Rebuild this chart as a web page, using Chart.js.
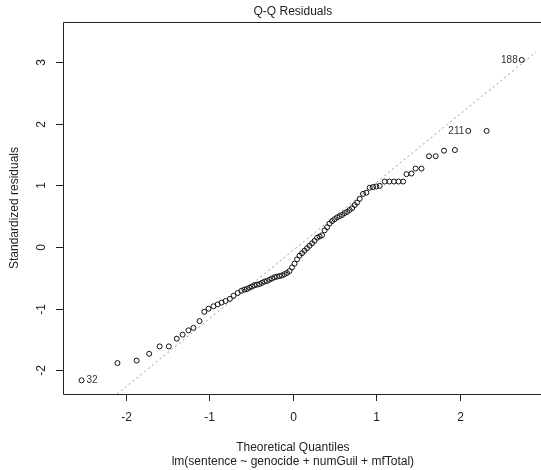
<!DOCTYPE html>
<html>
<head>
<meta charset="utf-8">
<script src="https://cdn.jsdelivr.net/npm/chart.js@4.4.0/dist/chart.umd.min.js"></script>
<style>
body { margin:0; background:#fff; }
</style>
</head>
<body>
<canvas id="qq" width="541" height="470"></canvas>
<script>
// theoretical quantiles (x) and standardized residuals (y)
var theoQ = [
    -2.53, -2.10, -1.87, -1.72, -1.595, -1.485, -1.39, -1.32, -1.25, -1.19, -1.117,
    -1.06, -1.01, -0.95, -0.90, -0.853, -0.806, -0.754, -0.71, -0.66, -0.616,
    -0.58, -0.55, -0.52, -0.49, -0.46, -0.43, -0.40, -0.37, -0.34, -0.31, -0.28,
    -0.25, -0.22, -0.19, -0.16, -0.13, -0.10, -0.07, -0.04, -0.01, 0.02, 0.05,
    0.08, 0.11, 0.14, 0.17, 0.20, 0.23, 0.26, 0.29, 0.32, 0.35, 0.38, 0.41,
    0.44, 0.47, 0.50, 0.53, 0.56, 0.59, 0.62, 0.65, 0.68, 0.71, 0.74, 0.77,
    0.80, 0.84, 0.88, 0.92, 0.96, 1.00, 1.04,
    1.10, 1.155, 1.21, 1.265, 1.32, 1.36, 1.42, 1.47, 1.54, 1.63, 1.71, 1.81,
    1.94, 2.10, 2.32, 2.74
];
var stdRes = [
    -2.16, -1.88, -1.84, -1.73, -1.61, -1.61, -1.485, -1.42, -1.35, -1.31, -1.20,
    -1.05, -1.00, -0.96, -0.93, -0.90, -0.875, -0.84, -0.79, -0.745, -0.71,
    -0.69, -0.68, -0.66, -0.64, -0.62, -0.61, -0.60, -0.58, -0.56, -0.55, -0.53,
    -0.51, -0.49, -0.48, -0.47, -0.46, -0.44, -0.42, -0.39, -0.33, -0.27, -0.20,
    -0.14, -0.10, -0.06, -0.02, 0.02, 0.06, 0.10, 0.15, 0.17, 0.19, 0.27, 0.32,
    0.38, 0.42, 0.45, 0.48, 0.50, 0.52, 0.55, 0.57, 0.60, 0.63, 0.68, 0.72,
    0.78, 0.86, 0.88, 0.96, 0.97, 0.98, 0.99,
    1.06, 1.06, 1.06, 1.06, 1.06, 1.18, 1.19, 1.27, 1.27, 1.47, 1.47, 1.56,
    1.57, 1.88, 1.88, 3.03
];
// observation ids shown next to the extreme points
var idIndex = [0, 87, 89];
var idText = ['32', '211', '188'];
var idSide = ['right', 'left', 'left'];

// qqline end points
var lineX = [-2.80, 2.95];
var lineY = [-3.15, 3.20];

var xTicks = [-2, -1, 0, 1, 2];
var yTicks = [-2, -1, 0, 1, 2, 3];

var pts = [];
for (var i = 0; i < theoQ.length; i++) pts.push({x: theoQ[i], y: stdRes[i]});
var linePts = [{x: lineX[0], y: lineY[0]}, {x: lineX[1], y: lineY[1]}];

var FONT = '"Liberation Sans", Arial, sans-serif';

var rStyle = {
    id: 'rStyle',
    afterDraw: function(chart) {
        var ctx = chart.ctx;
        var a = chart.chartArea;
        var xs = chart.scales.x, ys = chart.scales.y;
        ctx.save();
        // box (right side runs off the canvas)
        ctx.strokeStyle = '#222';
        ctx.lineWidth = 1;
        ctx.beginPath();
        ctx.moveTo(541, a.top + 0.5);
        ctx.lineTo(Math.round(a.left) + 0.5, a.top + 0.5);
        ctx.lineTo(Math.round(a.left) + 0.5, a.bottom + 0.5);
        ctx.lineTo(541, a.bottom + 0.5);
        ctx.stroke();

        ctx.fillStyle = '#222';
        ctx.font = '12px ' + FONT;
        // x axis
        ctx.textAlign = 'center';
        ctx.textBaseline = 'middle';
        xTicks.forEach(function(t) {
            var px = Math.round(xs.getPixelForValue(t)) + 0.5;
            ctx.beginPath();
            ctx.moveTo(px, a.bottom);
            ctx.lineTo(px, a.bottom + 7);
            ctx.stroke();
            ctx.fillText(String(t), px, 418);
        });
        // y axis, labels rotated like R
        yTicks.forEach(function(t) {
            var py = Math.round(ys.getPixelForValue(t)) + 0.5;
            ctx.beginPath();
            ctx.moveTo(a.left, py);
            ctx.lineTo(a.left - 7, py);
            ctx.stroke();
            ctx.save();
            ctx.translate(42, py);
            ctx.rotate(-Math.PI / 2);
            ctx.fillText(String(t), 0, 0);
            ctx.restore();
        });
        var cx = xs.getPixelForValue(0);
        ctx.fillText('Q-Q Residuals', cx, 12);
        ctx.fillText('Theoretical Quantiles', cx, 448);
        ctx.fillText('lm(sentence ~ genocide + numGuil + mfTotal)', cx, 462);
        ctx.save();
        ctx.translate(15, (a.top + a.bottom) / 2);
        ctx.rotate(-Math.PI / 2);
        ctx.fillText('Standardized residuals', 0, 0);
        ctx.restore();

        // id labels
        var meta = chart.getDatasetMeta(0);
        ctx.font = '10px ' + FONT;
        ctx.fillStyle = '#333';
        for (var k = 0; k < idIndex.length; k++) {
            var el = meta.data[idIndex[k]];
            if (idSide[k] == 'right') {
                ctx.textAlign = 'left';
                ctx.fillText(idText[k], el.x + 5, el.y);
            } else {
                ctx.textAlign = 'right';
                ctx.fillText(idText[k], el.x - 4, el.y);
            }
        }
        ctx.restore();
    }
};

new Chart(document.getElementById('qq'), {
    type: 'scatter',
    data: {
        datasets: [
            {
                data: pts,
                pointStyle: 'circle',
                pointRadius: 2.5,
                pointBorderWidth: 1,
                pointBorderColor: '#111',
                pointBackgroundColor: 'rgba(0,0,0,0)',
                order: 1
            },
            {
                data: linePts,
                showLine: true,
                borderColor: '#999',
                borderWidth: 1,
                borderDash: [2, 3],
                pointRadius: 0,
                order: 2
            }
        ]
    },
    options: {
        responsive: false,
        animation: false,
        events: [],
        layout: { padding: { left: 63, top: 22, right: 0, bottom: 76 } },
        scales: {
            x: { type: 'linear', display: false, min: -2.752, max: 2.911 },
            y: { type: 'linear', display: false, min: -2.381, max: 3.644 }
        },
        plugins: {
            legend: { display: false },
            tooltip: { enabled: false }
        }
    },
    plugins: [rStyle]
});
</script>
</body>
</html>
